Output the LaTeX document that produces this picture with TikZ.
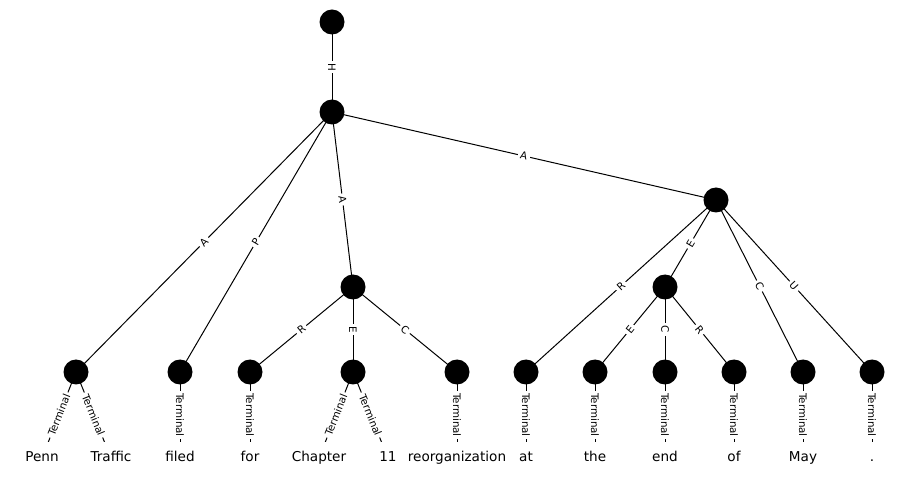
\documentclass[tikz,border=0pt]{standalone}
\usepackage{fontspec}
\setmainfont{DejaVu Sans}
\usetikzlibrary{backgrounds}
\begin{document}
\begin{tikzpicture}[x=1pt,y=-1pt,
  unit/.style={circle,fill=black,minimum size=25pt,inner sep=0pt},
  word/.style={rectangle,fill=white,font=\fontsize{13.6}{16}\selectfont,
    text height=10pt,text depth=3pt,inner ysep=9.5pt,inner xsep=1pt},
  rel/.style={draw=black,line width=1pt},
  lbl/.style={midway,sloped,fill=white,inner xsep=2.5pt,inner ysep=1pt,
    font=\fontsize{10.3}{12}\selectfont}]
\useasboundingbox (0,0) rectangle (914,481);

% non-terminal units
\node[unit] (root) at (332,22) {};
\node[unit] (n1) at (332,112) {};
\node[unit] (nA) at (716,200) {};
\node[unit] (nM) at (353,287) {};
\node[unit] (nE) at (665,287) {};

% pre-terminal units
\node[unit] (l1) at (76,372) {};
\node[unit] (l2) at (180,372) {};
\node[unit] (l3) at (250,372) {};
\node[unit] (l4) at (353,372) {};
\node[unit] (l5) at (457,372) {};
\node[unit] (l6) at (526,372) {};
\node[unit] (l7) at (595,372) {};
\node[unit] (l8) at (665,372) {};
\node[unit] (l9) at (734,372) {};
\node[unit] (l10) at (803,372) {};
\node[unit] (l11) at (872,372) {};

% tokens
\node[word] (w1) at (42,458) {Penn};
\node[word] (w2) at (111,458) {Traffic};
\node[word] (w3) at (180,458) {filed};
\node[word] (w4) at (250,458) {for};
\node[word] (w5) at (319,458) {Chapter};
\node[word] (w6) at (388,458) {11};
\node[word] (w7) at (457,458) {reorganization};
\node[word] (w8) at (526,458) {at};
\node[word] (w9) at (595,458) {the};
\node[word] (w10) at (665,458) {end};
\node[word] (w11) at (734,458) {of};
\node[word] (w12) at (803,458) {May};
\node[word] (w13) at (872,458) {.};

\begin{pgfonlayer}{background}
  \draw[rel] (root.center) -- node[lbl]{H} (n1.center);
  \draw[rel] (n1.center) -- node[lbl]{A} (l1.center);
  \draw[rel] (n1.center) -- node[lbl]{P} (l2.center);
  \draw[rel] (n1.center) -- node[lbl]{A} (nM.center);
  \draw[rel] (n1.center) -- node[lbl]{A} (nA.center);
  \draw[rel] (nM.center) -- node[lbl]{R} (l3.center);
  \draw[rel] (nM.center) -- node[lbl]{E} (l4.center);
  \draw[rel] (nM.center) -- node[lbl]{C} (l5.center);
  \draw[rel] (nA.center) -- node[lbl]{R} (l6.center);
  \draw[rel] (nA.center) -- node[lbl]{E} (nE.center);
  \draw[rel] (nA.center) -- node[lbl]{C} (l10.center);
  \draw[rel] (nA.center) -- node[lbl]{U} (l11.center);
  \draw[rel] (nE.center) -- node[lbl]{E} (l7.center);
  \draw[rel] (nE.center) -- node[lbl]{C} (l8.center);
  \draw[rel] (nE.center) -- node[lbl]{R} (l9.center);
  % terminal links
  \draw[rel] (l1.center) -- node[lbl]{Terminal} (w1.center);
  \draw[rel] (l1.center) -- node[lbl]{Terminal} (w2.center);
  \draw[rel] (l2.center) -- node[lbl]{Terminal} (w3.center);
  \draw[rel] (l3.center) -- node[lbl]{Terminal} (w4.center);
  \draw[rel] (l4.center) -- node[lbl]{Terminal} (w5.center);
  \draw[rel] (l4.center) -- node[lbl]{Terminal} (w6.center);
  \draw[rel] (l5.center) -- node[lbl]{Terminal} (w7.center);
  \draw[rel] (l6.center) -- node[lbl]{Terminal} (w8.center);
  \draw[rel] (l7.center) -- node[lbl]{Terminal} (w9.center);
  \draw[rel] (l8.center) -- node[lbl]{Terminal} (w10.center);
  \draw[rel] (l9.center) -- node[lbl]{Terminal} (w11.center);
  \draw[rel] (l10.center) -- node[lbl]{Terminal} (w12.center);
  \draw[rel] (l11.center) -- node[lbl]{Terminal} (w13.center);
\end{pgfonlayer}
\end{tikzpicture}
\end{document}
